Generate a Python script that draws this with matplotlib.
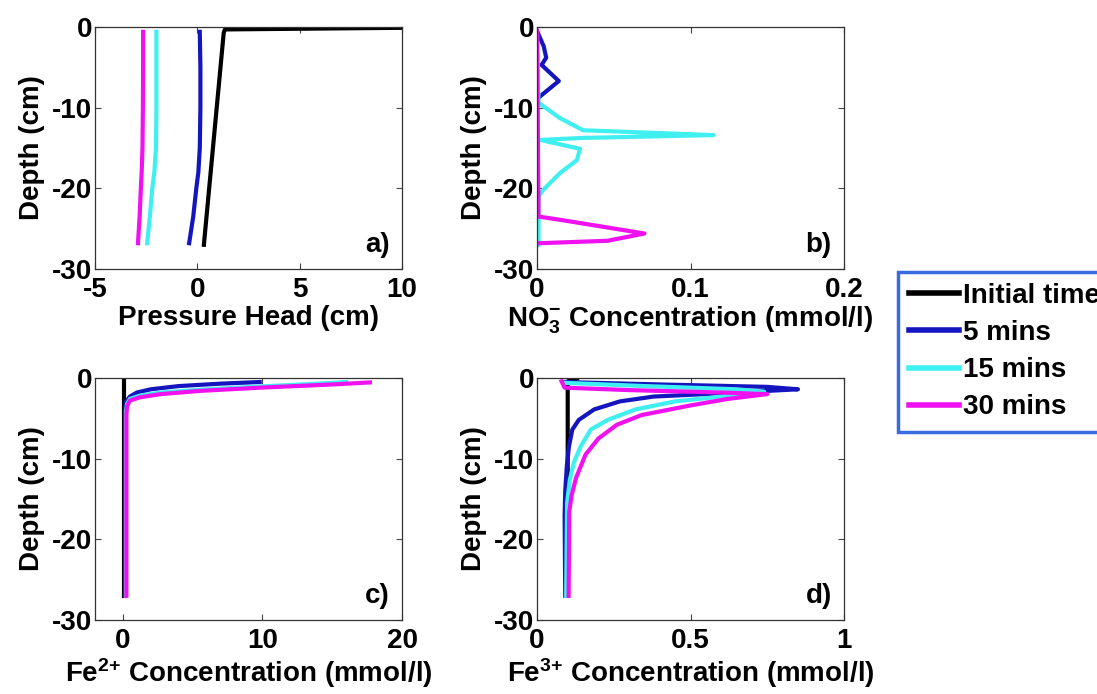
import matplotlib
matplotlib.use("Agg")
import matplotlib.pyplot as plt

plt.rcParams['font.family'] = ['Liberation Sans', 'DejaVu Sans']
plt.rcParams['font.weight'] = 'bold'
plt.rcParams['axes.labelweight'] = 'bold'
plt.rcParams['axes.unicode_minus'] = False
plt.rcParams['mathtext.fontset'] = 'custom'
plt.rcParams['mathtext.rm'] = 'Liberation Sans:bold'
plt.rcParams['mathtext.it'] = 'Liberation Sans:bold'
plt.rcParams['mathtext.bf'] = 'Liberation Sans:bold'
plt.rcParams['mathtext.default'] = 'rm'

series_names = ['Initial time', '5 mins', '15 mins', '30 mins']
colors = ['black', '#1515c0', '#40f0f0', '#f010f0']

# a) pressure head (cm) vs depth (cm)
head_init_depth = [-0.1, -0.3, -0.7, -27]
head_init = [10.0, 1.35, 1.29, 0.32]
head_depth = [-0.6, -5, -10, -15, -18, -20, -23.5, -26.8]
head_5 = [0.12, 0.15, 0.15, 0.12, 0.05, -0.05, -0.2, -0.4]
head_15 = [-2.0, -2.0, -2.0, -2.02, -2.1, -2.2, -2.32, -2.45]
head_30 = [-2.65, -2.65, -2.66, -2.68, -2.72, -2.76, -2.82, -2.9]

# b) NO3- concentration (mmol/l)
no3_init_depth = [-0.5, -27]
no3_init = [0, 0]
no3_5_depth = [-0.5, -2.4, -3.8, -4.7, -6.7, -8.6, -9.0, -27]
no3_5 = [0.0, 0.0044, 0.006, 0.003, 0.0142, 0.002, 0.0, 0.0]
no3_15_depth = [-0.5, -9.4, -11.3, -12.8, -13.4, -13.75, -14.0, -15.1, -16.5, -18.1, -20.2, -21.0, -27]
no3_15 = [0.0, 0.001, 0.015, 0.03, 0.115, 0.03, 0.002, 0.028, 0.026, 0.015, 0.004, 0.001, 0.001]
no3_30_depth = [-0.5, -23.5, -23.9, -25.6, -26.5, -26.8]
no3_30 = [0.0, 0.001, 0.015, 0.070, 0.046, 0.002]

# c) Fe2+ concentration (mmol/l)
fe2_init_depth = [-0.2, -27]
fe2_init = [0.05, 0.05]
fe2_5_depth = [-27, -4.0, -3.0, -2.3, -1.8, -1.4, -1.0, -0.7, -0.5]
fe2_5 = [0.15, 0.15, 0.2, 0.5, 1.0, 2.0, 4.0, 7.0, 9.8]
fe2_15_depth = [-27, -4.2, -3.2, -2.6, -2.2, -1.8, -1.45, -1.05, -0.7, -0.5]
fe2_15 = [0.22, 0.22, 0.3, 0.5, 1.2, 2.7, 5.5, 9.8, 14.0, 16.0]
fe2_30_depth = [-27, -4.5, -3.5, -2.8, -2.4, -2.0, -1.6, -1.2, -0.8, -0.55]
fe2_30 = [0.25, 0.25, 0.3, 0.5, 1.2, 2.7, 5.5, 9.8, 15.0, 17.7]

# d) Fe3+ concentration (mmol/l)
fe3_init_depth = [-0.1, -0.4, -27]
fe3_init = [0.13, 0.1, 0.1]
fe3_5_depth = [-0.5, -0.8, -1.1, -1.4, -1.9, -2.3, -2.9, -3.9, -5.2, -6.4, -8.5, -11, -14, -17, -27]
fe3_5 = [0.09, 0.4, 0.75, 0.85, 0.6, 0.38, 0.27, 0.186, 0.136, 0.115, 0.104, 0.097, 0.092, 0.09, 0.092]
fe3_15_depth = [-0.6, -1.0, -1.4, -1.7, -2.3, -2.9, -3.9, -5.2, -6.4, -8.5, -10.5, -12.6, -15.5, -27]
fe3_15 = [0.09, 0.35, 0.65, 0.74, 0.6, 0.45, 0.32, 0.23, 0.175, 0.142, 0.12, 0.107, 0.098, 0.095]
fe3_30_depth = [-0.4, -1.2, -1.5, -1.8, -2.0, -2.6, -3.4, -4.6, -5.8, -7.5, -9.5, -12.4, -14.5, -16.6, -27]
fe3_30 = [0.08, 0.09, 0.3, 0.6, 0.75, 0.62, 0.5, 0.34, 0.26, 0.2, 0.158, 0.127, 0.113, 0.105, 0.103]

fig = plt.figure(figsize=(10.97, 6.94), dpi=100)
W, H = 1097, 694


def make_axes(left, top, right, bottom):
    return fig.add_axes([left / W, 1 - bottom / H, (right - left) / W, (bottom - top) / H])


def style(ax, xlim, xticks, xticklabels, xlabel, tag):
    ax.set_xlim(xlim)
    ax.set_ylim(-30, 0)
    ax.set_xticks(xticks)
    ax.set_xticklabels(xticklabels)
    ax.set_yticks([-30, -20, -10, 0])
    ax.set_yticklabels(['-30', '-20', '-10', '0'])
    ax.tick_params(direction='in', top=True, right=True, length=4, width=0.8,
                   color='#444444', labelsize=20)
    ax.tick_params(axis='x', pad=6)
    ax.tick_params(axis='y', pad=2)
    for s in ax.spines.values():
        s.set_linewidth(0.9)
        s.set_color('#333333')
    ax.set_xlabel(xlabel, fontsize=20, labelpad=1)
    ax.set_ylabel('Depth (cm)', fontsize=20, labelpad=5)
    ax.text(0.96, 0.07, tag, transform=ax.transAxes, ha='right', va='baseline',
            fontsize=20)


lw = 3
ax_a = make_axes(95, 27, 402, 269)
lines = []
for d, v, c, n in zip([head_init_depth, head_depth, head_depth, head_depth],
                      [head_init, head_5, head_15, head_30], colors, series_names):
    ln, = ax_a.plot(v, d, color=c, lw=lw, label=n)
    lines.append(ln)
style(ax_a, (-5, 10), [-5, 0, 5, 10], ['-5', '0', '5', '10'], 'Pressure Head (cm)', 'a)')

ax_b = make_axes(537, 27, 844, 269)
for d, v, c in zip([no3_init_depth, no3_5_depth, no3_15_depth, no3_30_depth],
                   [no3_init, no3_5, no3_15, no3_30], colors):
    ax_b.plot(v, d, color=c, lw=lw)
style(ax_b, (0, 0.2), [0, 0.1, 0.2], ['0', '0.1', '0.2'],
      'NO$_3^{-}$ Concentration (mmol/l)', 'b)')

ax_c = make_axes(95, 378, 402, 620)
for d, v, c in zip([fe2_init_depth, fe2_5_depth, fe2_15_depth, fe2_30_depth],
                   [fe2_init, fe2_5, fe2_15, fe2_30], colors):
    ax_c.plot(v, d, color=c, lw=lw)
style(ax_c, (-2, 20), [0, 10, 20], ['0', '10', '20'],
      'Fe$^{2{+}}$ Concentration (mmol/l)', 'c)')

ax_d = make_axes(537, 378, 844, 620)
for d, v, c in zip([fe3_init_depth, fe3_5_depth, fe3_15_depth, fe3_30_depth],
                   [fe3_init, fe3_5, fe3_15, fe3_30], colors):
    ax_d.plot(v, d, color=c, lw=lw)
style(ax_d, (0, 1), [0, 0.5, 1], ['0', '0.5', '1'],
      'Fe$^{3{+}}$ Concentration (mmol/l)', 'd)')

leg = fig.legend(handles=lines, loc='upper left', bbox_to_anchor=(898 / W, 1 - 272 / H),
                 bbox_transform=fig.transFigure, borderaxespad=0, fontsize=20,
                 handlelength=1.8, handletextpad=0.15, labelspacing=0.4,
                 borderpad=0.4, fancybox=False, framealpha=1)
leg.get_frame().set_edgecolor('#3a6be0')
leg.get_frame().set_linewidth(2.5)
for ln in leg.get_lines():
    ln.set_linewidth(4)

fig.savefig('out.png', dpi=100)
